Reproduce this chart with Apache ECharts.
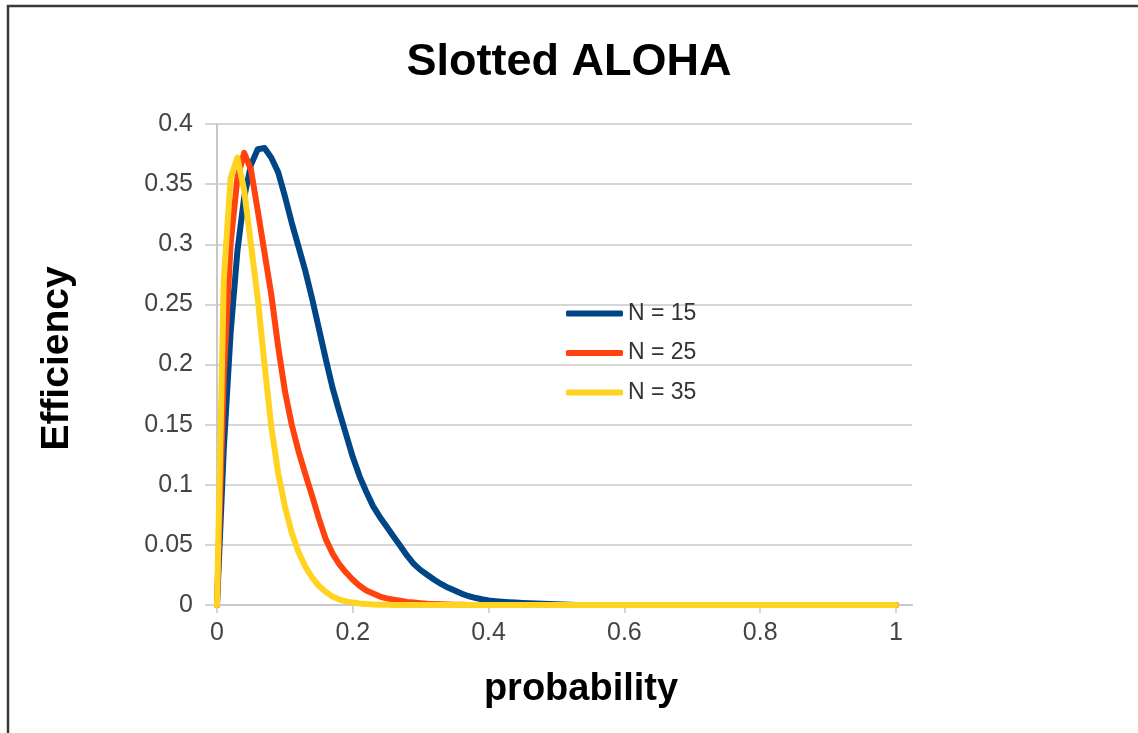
<!DOCTYPE html>
<html>
<head>
<meta charset="utf-8">
<script src="https://cdn.jsdelivr.net/npm/echarts@6/dist/echarts.min.js"></script>
<style>
html,body{margin:0;padding:0;background:#fff;}
#chart{width:1138px;height:733px;}
</style>
</head>
<body>
<div id="chart"></div>
<script>
// probability values (x)
var probability = [0,0.01,0.02,0.03,0.04,0.05,0.06,0.07,0.08,0.09,
  0.10,0.11,0.12,0.13,0.14,0.15,0.16,0.17,0.18,0.19,
  0.20,0.21,0.22,0.23,0.24,0.25,0.26,0.27,0.28,0.29,
  0.30,0.31,0.32,0.33,0.34,0.35,0.36,0.37,0.38,0.39,
  0.40,0.41,0.42,0.43,0.44,0.45,0.46,0.47,0.48,0.49,
  0.50,0.51,0.52,0.53,0.54,0.55,0.56,0.57,0.58,0.59,
  0.60,0.70,0.80,0.90,1.00];

var effN15 = [0,0.130,0.226,0.294,0.339,0.366,0.379,0.380,0.372,0.360,
  0.340,0.318,0.298,0.278,0.255,0.230,0.205,0.181,0.161,0.142,
  0.123,0.107,0.094,0.082,0.073,0.065,0.057,0.049,0.041,0.034,
  0.029,0.025,0.021,0.0175,0.0145,0.012,0.0095,0.0075,0.006,0.0048,
  0.0038,0.0032,0.0027,0.0023,0.0020,0.0017,0.0014,0.0012,0.0010,0.0008,
  0.0006,0.0004,0.0003,0,0,0,0,0,0,0,
  0,0,0,0,0];

var effN25 = [0,0.190,0.300,0.355,0.376,0.362,0.328,0.293,0.258,0.215,
  0.178,0.150,0.128,0.109,0.091,0.072,0.055,0.043,0.034,0.027,
  0.021,0.016,0.012,0.0095,0.007,0.0055,0.0045,0.0035,0.0025,0.002,
  0.0015,0.001,0.0008,0.0006,0.0004,0.0003,0.0002,0.0001,0,0,
  0,0,0,0,0,0,0,0,0,0,
  0,0,0,0,0,0,0,0,0,0,
  0,0,0,0,0];

var effN35 = [0,0.270,0.355,0.372,0.345,0.300,0.255,0.200,0.148,0.110,
  0.082,0.060,0.044,0.032,0.023,0.016,0.011,0.007,0.0045,0.003,
  0.002,0.0013,0.0008,0.0005,0.0003,0.0002,0.0001,0,0,0,
  0,0,0,0,0,0,0,0,0,0,
  0,0,0,0,0,0,0,0,0,0,
  0,0,0,0,0,0,0,0,0,0,
  0,0,0,0,0];

var seriesNames = ['N = 15','N = 25','N = 35'];
var seriesColors = ['#004586','#ff420e','#ffd320'];
var xTickValues = [0,0.2,0.4,0.6,0.8,1];

function pairs(ys){ return probability.map(function(x,i){ return [x, ys[i]]; }); }
var allSeries = [effN15, effN25, effN35];

var font = "'Liberation Sans', Arial, sans-serif";
var chart = echarts.init(document.getElementById('chart'), null, {renderer:'canvas'});
chart.setOption({
  backgroundColor:'#ffffff',
  animation:false,
  title:{
    text:'Slotted ALOHA', left:'center', top:35,
    textStyle:{fontFamily:font, fontSize:45, fontWeight:'bold', color:'#000'}
  },
  legend:{
    orient:'vertical', left:561, top:297,
    icon:'roundRect', itemWidth:57, itemHeight:6, itemGap:16.5,
    textStyle:{fontFamily:font, fontSize:23, color:'#333'},
    data:seriesNames
  },
  grid:{left:217, right:226, top:124, bottom:128, containLabel:false},
  xAxis:{
    type:'value', min:0, max:1.0236,
    name:'probability', nameLocation:'middle', nameGap:66,
    nameTextStyle:{fontFamily:font, fontSize:38, fontWeight:'bold', color:'#000', padding:[0,0,0,33]},
    axisLine:{show:true, lineStyle:{color:'#c8c8c8', width:2}},
    axisTick:{show:true, inside:false, length:8, lineStyle:{color:'#c8c8c8', width:1.5}, customValues:xTickValues},
    axisLabel:{fontFamily:font, fontSize:25, color:'#444', margin:16, customValues:xTickValues},
    splitLine:{show:false}
  },
  yAxis:{
    type:'value', min:0, max:0.4, interval:0.05,
    name:'Efficiency', nameLocation:'middle', nameGap:140,
    nameTextStyle:{fontFamily:font, fontSize:39, fontWeight:'bold', color:'#000', padding:[0,0,0,12]},
    axisLine:{show:true, lineStyle:{color:'#c8c8c8', width:2}},
    axisTick:{show:true, inside:false, length:12, lineStyle:{color:'#c8c8c8', width:1.5}},
    axisLabel:{fontFamily:font, fontSize:25, color:'#444', margin:24},
    splitLine:{show:true, lineStyle:{color:'#c8c8c8', width:1.5}}
  },
  graphic:[{
    type:'polyline', silent:true, z:100,
    shape:{points:[[8,745],[8,6],[1145,6]]},
    style:{stroke:'#3a3a3a', lineWidth:2.5, fill:null}
  }],
  series: allSeries.map(function(ys,i){
    return {
      name:seriesNames[i], type:'line', data:pairs(ys),
      symbol:'none', smooth:false,
      lineStyle:{color:seriesColors[i], width:6, cap:'round', join:'round'},
      itemStyle:{color:seriesColors[i]}
    };
  })
});
</script>
</body>
</html>
